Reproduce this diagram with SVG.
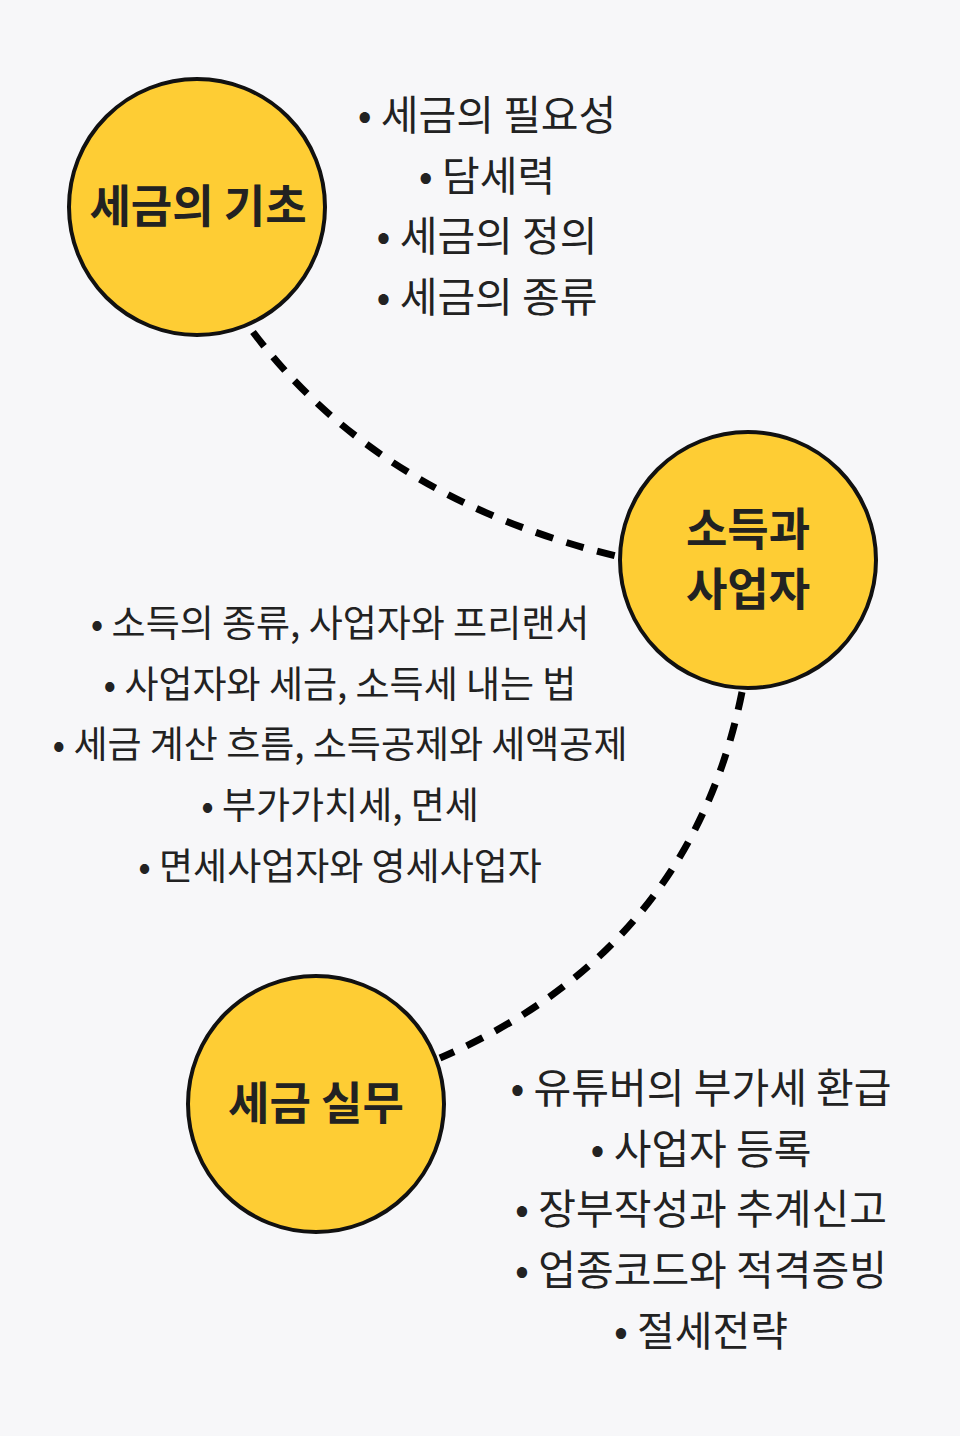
<svg xmlns="http://www.w3.org/2000/svg" width="960" height="1436" viewBox="0 0 960 1436">
<style>
.bg{fill:#f7f7f9}
.node circle{fill:#fecd34;stroke:#111;stroke-width:4}
.title{font-family:"Noto Sans CJK KR","Noto Sans",sans-serif;font-weight:700;font-size:45px;fill:#222;text-anchor:middle}
.item{font-family:"Noto Sans CJK KR","Noto Sans",sans-serif;font-weight:400;font-size:41px;fill:#222;text-anchor:middle}
.mid{font-size:37px}
.conn path{fill:none;stroke:#000;stroke-width:7;stroke-dasharray:18 14}
</style>
<rect class="bg" x="0" y="0" width="960" height="1436"/>
<g id="connectors" class="conn">
<path d="M253,332 Q380,500 620,557"/>
<path d="M742,692 Q690,950 440,1058"/>
</g>
<g id="node-basics" class="node">
<circle cx="197" cy="207" r="128"/>
<text class="title" x="198" y="223">세금의 기초</text>
</g>
<g id="node-income" class="node">
<circle cx="748" cy="560" r="128"/>
<text class="title" x="748" y="546">소득과</text>
<text class="title" x="748" y="606">사업자</text>
</g>
<g id="node-practice" class="node">
<circle cx="316" cy="1104" r="128"/>
<text class="title" x="316" y="1120">세금 실무</text>
</g>
<g id="list-basics">
<text class="item" x="487" y="130">• 세금의 필요성</text>
<text class="item" x="487" y="191">• 담세력</text>
<text class="item" x="487" y="251">• 세금의 정의</text>
<text class="item" x="487" y="312">• 세금의 종류</text>
</g>
<g id="list-income">
<text class="item mid" x="340" y="637">• 소득의 종류, 사업자와 프리랜서</text>
<text class="item mid" x="340" y="698">• 사업자와 세금, 소득세 내는 법</text>
<text class="item mid" x="340" y="758">• 세금 계산 흐름, 소득공제와 세액공제</text>
<text class="item mid" x="340" y="819">• 부가가치세, 면세</text>
<text class="item mid" x="340" y="880">• 면세사업자와 영세사업자</text>
</g>
<g id="list-practice">
<text class="item" x="701" y="1103">• 유튜버의 부가세 환급</text>
<text class="item" x="701" y="1164">• 사업자 등록</text>
<text class="item" x="701" y="1224">• 장부작성과 추계신고</text>
<text class="item" x="701" y="1285">• 업종코드와 적격증빙</text>
<text class="item" x="701" y="1346">• 절세전략</text>
</g>
</svg>
